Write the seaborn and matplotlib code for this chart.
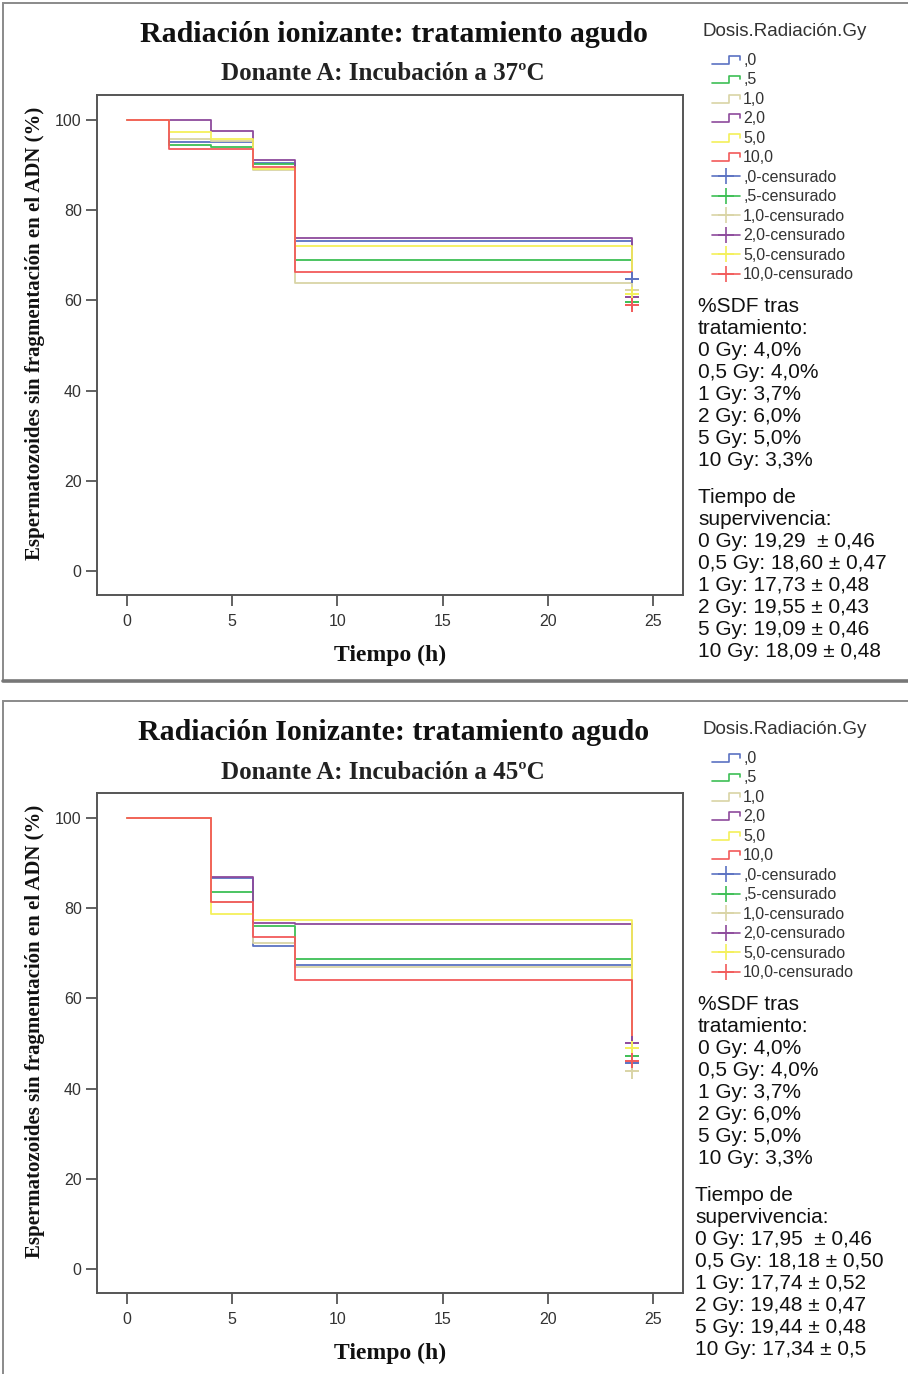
import numpy as np
import pandas as pd
import matplotlib
matplotlib.use('Agg')
import matplotlib.pyplot as plt
import seaborn as sns
from matplotlib.lines import Line2D
from matplotlib.legend_handler import HandlerBase
from matplotlib.patches import Rectangle

# Dosis de radiacion (Gy)
dosis = [',0', ',5', '1,0', '2,0', '5,0', '10,0']
colores = ['#5b72c2', '#3dbf55', '#d9d4a6', '#8d4a9c', '#f4f05a', '#f25a5a']

# Donante A, incubacion a 37 ºC
tiempo37 = [0, 2, 4, 6, 8, 24]
sup37_0 = [100, 95.0, 95.0, 90.5, 73.2, 64.7]
sup37_05 = [100, 94.4, 94.0, 90.2, 69.0, 59.7]
sup37_1 = [100, 95.7, 95.4, 88.9, 63.8, 62.3]
sup37_2 = [100, 100, 97.6, 91.1, 73.8, 60.8]
sup37_5 = [100, 97.2, 95.7, 89.1, 72.1, 61.3]
sup37_10 = [100, 93.6, 93.6, 89.5, 66.3, 59.0]

# Donante A, incubacion a 45 ºC
tiempo45 = [0, 4, 6, 8, 24]
sup45_0 = [100, 86.6, 71.6, 67.3, 45.7]
sup45_05 = [100, 83.6, 76.0, 68.7, 47.2]
sup45_1 = [100, 81.3, 72.3, 67.0, 43.8]
sup45_2 = [100, 86.9, 76.7, 76.4, 50.1]
sup45_5 = [100, 78.7, 77.3, 77.3, 49.0]
sup45_10 = [100, 81.3, 73.6, 64.0, 46.2]

# Textos de resumen
sdf = ['0 Gy: 4,0%', '0,5 Gy: 4,0%', '1 Gy: 3,7%', '2 Gy: 6,0%', '5 Gy: 5,0%', '10 Gy: 3,3%']
media37 = ['0 Gy: 19,29  ± 0,46', '0,5 Gy: 18,60 ± 0,47', '1 Gy: 17,73 ± 0,48',
           '2 Gy: 19,55 ± 0,43', '5 Gy: 19,09 ± 0,46', '10 Gy: 18,09 ± 0,48']
media45 = ['0 Gy: 17,95  ± 0,46', '0,5 Gy: 18,18 ± 0,50', '1 Gy: 17,74 ± 0,52',
           '2 Gy: 19,48 ± 0,47', '5 Gy: 19,44 ± 0,48', '10 Gy: 17,34 ± 0,5']

W, H = 908, 1374
SERIF = 'Liberation Serif'
SANS = 'Liberation Sans'
GRIS = '#333333'


class StepLine(Line2D):
    pass


class StepHandler(HandlerBase):
    # icono en forma de escalon como en SPSS
    def create_artists(self, legend, orig_handle, xdescent, ydescent,
                       width, height, fontsize, trans):
        xs = np.array([0, 0.62, 0.62, 1.0, 1.0]) * width - xdescent
        ys = np.array([0.1, 0.1, 0.8, 0.8, 0.45]) * height - ydescent
        ln = Line2D(xs, ys, color=orig_handle.get_color(), lw=1.2)
        ln.set_transform(trans)
        return [ln]


def fy(py):
    return 1 - py / H


def panel(fig, off, titulo, subtitulo, tiempo, series, medias, x_sup):
    filas = []
    for d, vals in zip(dosis, series):
        for t, v in zip(tiempo, vals):
            filas.append({'Tiempo': t, 'Sup': v, 'Dosis': d})
    df = pd.DataFrame(filas)
    cens = df[df['Tiempo'] == tiempo[-1]]
    pal = dict(zip(dosis, colores))

    ax = fig.add_axes([97 / W, fy(595 + off), 586 / W, 500 / H])
    sns.lineplot(data=df, x='Tiempo', y='Sup', hue='Dosis', hue_order=dosis,
                 palette=pal, estimator=None, drawstyle='steps-post',
                 lw=1.3, legend=False, ax=ax)
    sns.scatterplot(data=cens, x='Tiempo', y='Sup', hue='Dosis', hue_order=dosis,
                    palette=pal, marker='+', s=110, linewidth=1.4,
                    legend=False, ax=ax, zorder=3)

    ax.set_xlim(-1.43, 26.43)
    ax.set_ylim(-5.3, 105.5)
    ax.set_xticks([0, 5, 10, 15, 20, 25])
    ax.set_yticks([0, 20, 40, 60, 80, 100])
    ax.tick_params(bottom=True, left=True, direction='out', length=8, width=1.3,
                   color='#555555', labelsize=11.5, labelcolor=GRIS, pad=3)
    ax.tick_params(axis='x', pad=6)
    for lab in ax.get_xticklabels() + ax.get_yticklabels():
        lab.set_family(SANS)
    for s in ax.spines.values():
        s.set_color('#555555')
        s.set_linewidth(1.4)
    ax.set_xlabel('Tiempo (h)', family=SERIF, weight='bold', fontsize=17,
                  color='#111111')
    ax.xaxis.set_label_coords(0.5, -(645 - 595) / 500)
    ax.set_ylabel('Espermatozoides sin fragmentación en el ADN (%)', family=SERIF,
                  weight='bold', fontsize=15, color='#111111')
    ax.yaxis.set_label_coords(-(97 - 45) / 586, (595 - 333) / 500)
    ax.grid(False)

    fig.text(394 / W, fy(34 + off), titulo, ha='center', va='center', family=SERIF,
             weight='bold', fontsize=21.5, color='#111111')
    fig.text(383 / W, fy(74 + off), subtitulo, ha='center', va='center', family=SERIF,
             weight='bold', fontsize=18, color='#222222')

    # leyenda
    fig.text(702 / W, fy(31 + off), 'Dosis.Radiación.Gy', ha='left', va='center',
             family=SANS, fontsize=13.5, color=GRIS)
    handles = [StepLine([], [], color=c) for c in colores]
    handles += [Line2D([], [], color=c, marker='+', markersize=12, lw=1.2,
                       markeredgewidth=1.2) for c in colores]
    labels = dosis + [d + '-censurado' for d in dosis]
    fig.legend(handles, labels, loc='upper left', bbox_to_anchor=(712 / W, fy(53 + off)),
               frameon=False, handler_map={StepLine: StepHandler()},
               prop={'family': SANS, 'size': 11.5}, labelcolor=GRIS,
               handlelength=1.75, handletextpad=0.2, labelspacing=0.28,
               borderpad=0, borderaxespad=0)

    fig.text(698 / W, fy(297 + off), '%SDF tras\ntratamiento:\n' + '\n'.join(sdf),
             ha='left', va='top', family=SANS, fontsize=15, linespacing=1.2, color='#111111')
    fig.text(x_sup / W, fy(488 + off), 'Tiempo de\nsupervivencia:\n' + '\n'.join(medias),
             ha='left', va='top', family=SANS, fontsize=15, linespacing=1.2, color='#111111')

    # marco del panel
    top = 3 + off
    bot = 681 + off
    fig.patches.append(Rectangle((3 / W, fy(bot)), 1.0, (bot - top) / H,
                                 transform=fig.transFigure, fill=False,
                                 ec='#8a8a8a', lw=1.4))
    fig.lines.append(Line2D([3 / W, 1.0], [fy(bot), fy(bot)], transform=fig.transFigure,
                            color='#777777', lw=2.6))


sns.set_style('white')
fig = plt.figure(figsize=(W / 100, H / 100), dpi=100)

panel(fig, 0, 'Radiación ionizante: tratamiento agudo', 'Donante A: Incubación a 37ºC',
      tiempo37, [sup37_0, sup37_05, sup37_1, sup37_2, sup37_5, sup37_10], media37, 698)
panel(fig, 698, 'Radiación Ionizante: tratamiento agudo', 'Donante A: Incubación a 45ºC',
      tiempo45, [sup45_0, sup45_05, sup45_1, sup45_2, sup45_5, sup45_10], media45, 695)

fig.savefig('out.png', dpi=100)
